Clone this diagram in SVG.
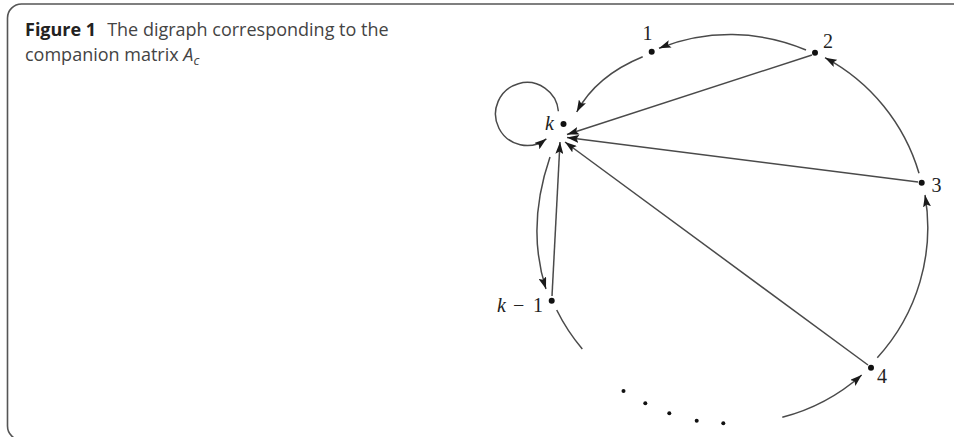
<svg xmlns="http://www.w3.org/2000/svg" width="954" height="437" viewBox="0 0 954 437">
<defs>
<marker id="arr" viewBox="0 0 12 8" refX="12" refY="4" markerWidth="12" markerHeight="8" markerUnits="userSpaceOnUse" orient="auto">
<path d="M0,0 L12,4 L0,8 L2.4,4 z" fill="#1a1a1a"/>
</marker>
<style>
.cap{font-family:"Open Sans","Noto Sans",sans-serif;font-size:18px;fill:#444}
.lab{font-family:"Liberation Serif","DejaVu Serif",serif;font-size:20px;fill:#222}
.it{font-style:italic}
.e{fill:none;stroke:#4a4a4a;stroke-width:1.5}
.a{marker-end:url(#arr)}
.dot{fill:#111}
</style>
</defs>
<rect x="7.5" y="4" width="1000" height="436" rx="14" fill="#fff" stroke="#555" stroke-width="1.6"/>
<text class="cap" x="25" y="36"><tspan font-weight="bold" fill="#222">Figure 1</tspan><tspan dx="11">The digraph corresponding to the</tspan></text>
<text class="cap" x="25" y="61">companion matrix <tspan font-style="italic">A</tspan><tspan font-style="italic" font-size="13" dy="4">c</tspan></text>
<g id="connectors">
<path class="e a" d="M558.4,111.3 A31.5,31.5 0 1 0 546.4,138.8"/>
<path class="e a" d="M642.7,56.7 Q596.3,75.7 576.7,112"/>
<path class="e a" d="M806,50 A193,193 0 0 0 659,48.3"/>
<path class="e a" d="M919,173.3 A193,193 0 0 0 825,57.7"/>
<path class="e a" d="M877.3,357.7 A193,193 0 0 0 925,195"/>
<path class="e a" d="M782.3,417.3 A193,193 0 0 0 861.7,375"/>
<path class="e" d="M556.7,310 A193,193 0 0 0 582.3,349"/>
<path class="e a" d="M550,157 Q526,227 546,289"/>
<path class="e a" d="M552,296 L560,142"/>
<path class="e a" d="M868,365 L565,142"/>
<path class="e a" d="M918,182 L567,137.5"/>
<path class="e a" d="M812,55 L567,134.5"/>
</g>
<g id="node-k"><circle class="dot" cx="563.5" cy="124" r="3"/><text class="lab it" x="545" y="130">k</text></g>
<g id="node-1"><circle class="dot" cx="651.7" cy="51.7" r="3"/><text class="lab" x="642.5" y="40">1</text></g>
<g id="node-2"><circle class="dot" cx="815" cy="52.7" r="3"/><text class="lab" x="823" y="48.3">2</text></g>
<g id="node-3"><circle class="dot" cx="921.7" cy="182.7" r="3"/><text class="lab" x="931.5" y="191.7">3</text></g>
<g id="node-4"><circle class="dot" cx="871" cy="367.7" r="3"/><text class="lab" x="877" y="383">4</text></g>
<g id="node-km1"><circle class="dot" cx="551.7" cy="300.7" r="3"/><text class="lab" x="497" y="311.7"><tspan font-style="italic">k</tspan><tspan x="513">−</tspan><tspan x="533">1</tspan></text></g>
<g id="ellipsis">
<circle class="dot" cx="623.5" cy="391" r="2"/>
<circle class="dot" cx="645.3" cy="403.3" r="2"/>
<circle class="dot" cx="669.3" cy="413.3" r="2"/>
<circle class="dot" cx="696.7" cy="420.7" r="2"/>
<circle class="dot" cx="723.3" cy="423.3" r="2"/>
</g>
</svg>
